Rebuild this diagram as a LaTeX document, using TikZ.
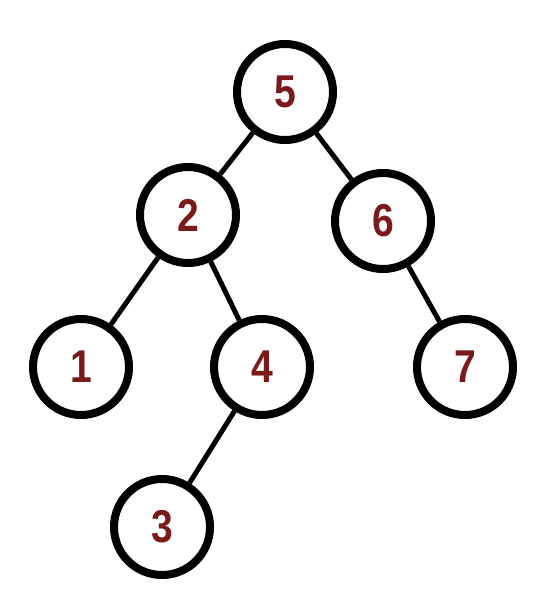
\documentclass[tikz,border=0pt]{standalone}
\usepackage{fontspec}
\setmainfont{Liberation Sans}
\definecolor{numred}{HTML}{7A1A1A}
\begin{document}
\begin{tikzpicture}[x=1pt,y=-1pt,
  tnode/.style={circle,draw=black,line width=8pt,minimum size=96pt,inner sep=0pt,fill=white,
    font=\fontsize{46}{46}\selectfont\bfseries,text=numred},
  tedge/.style={line width=5pt,black}]
\useasboundingbox (0,0) rectangle (546,616);
\node[tnode] (n5) at (285,92) {\scalebox{0.85}[1]{5}};
\node[tnode] (n2) at (188,215) {\scalebox{0.85}[1]{2}};
\node[tnode] (n6) at (383,221) {\scalebox{0.85}[1]{6}};
\node[tnode] (n1) at (81,367) {\scalebox{0.85}[1]{1}};
\node[tnode] (n4) at (262,367) {\scalebox{0.85}[1]{4}};
\node[tnode] (n7) at (465,367) {\scalebox{0.85}[1]{7}};
\node[tnode] (n3) at (162,527) {\scalebox{0.85}[1]{3}};
\draw[tedge] (n5) -- (n2);
\draw[tedge] (n5) -- (n6);
\draw[tedge] (n2) -- (n1);
\draw[tedge] (n2) -- (n4);
\draw[tedge] (n6) -- (n7);
\draw[tedge] (n4) -- (n3);
\end{tikzpicture}
\end{document}
